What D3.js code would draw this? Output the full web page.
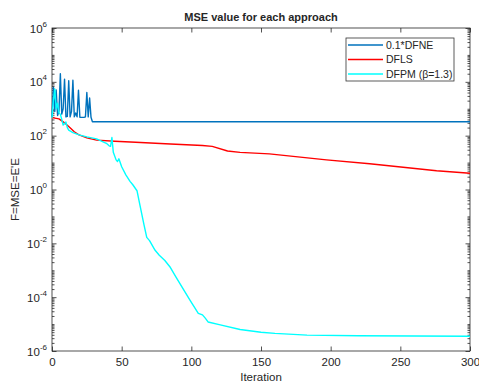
<!DOCTYPE html>
<html><head><meta charset="utf-8">
<script src="https://cdn.jsdelivr.net/npm/d3@7"></script>
<style>
body{margin:0;background:#fff}
svg{display:block}
text{font-family:"Liberation Sans",Arial,Helvetica,sans-serif;fill:#262626}
</style>
</head><body>
<svg id="chart" width="479" height="383"></svg>
<script>
// ---- data ----
const seriesNames = ["0.1*DFNE", "DFLS", "DFPM (\u03b2=1.3)"];
const seriesColors = ["#0072BD", "#FF0000", "#00FFFF"];

const dfneIter = [0,1,2,3,4,5,6,7,8,9,10,11,12,13,14,15,16,17,18,19,20,21,22,23,24,25,26,27,28,29,300];
const dfneVals = [500,6200,800,5000,560,800,20000,630,1000,12600,500,520,11000,500,800,11500,500,700,500,4900,480,480,480,480,500,4000,500,2500,480,330,330];

const dflsIter = [0,5,9,12,16,19,25,32,45,60,85,108,115,126,135,156,197,228,276,300];
const dflsVals = [470,420,300,220,140,110,83,68,62,57,49,43,40,27,24,21,12.6,9,5,4];

const dfpmIter = [0,1,2,3,4,5,6,7,8,9,10,11,12,15,20,25,32,39,41,42,43,44,46,47,48,50,53,56,58,61,63,66,68,70,74,77,81,85,89,99,105,108,110,112,120,135,150,160,183,220,260,300];
const dfpmVals = [460,2000,5400,1000,1600,700,630,400,250,280,320,200,160,130,105,90,76,52,42,40,85,24,12.6,11,13.8,7,3.5,2,1.5,0.9,0.28,0.05,0.0166,0.0126,0.0055,0.0036,0.0023,0.00126,5.6e-4,7.8e-5,2.5e-5,2.2e-5,1.66e-5,1.2e-5,9.5e-6,6.3e-6,5e-6,4.5e-6,3.9e-6,3.7e-6,3.63e-6,3.55e-6];

const xTicks = [0,50,100,150,200,250,300];
const yMajorExp = [-6,-4,-2,0,2,4,6];
const titleText = "MSE value for each approach";
const xLabel = "Iteration";
const yLabel = "F=MSE=E'E";

// ---- layout ----
const L = 52, R = 470, T = 28, B = 351;
const svg = d3.select("#chart");
const axisColor = "#262626";

const x = d3.scaleLinear().domain([0,300]).range([L,R]);
const y = d3.scaleLog().domain([1e-6,1e6]).range([B,T]);

// minor tick values
const yMinor = [];
for (let e=-6; e<6; e++) {
  for (let m=1; m<10; m++) {
    const v = m*Math.pow(10,e);
    if (m===1 && yMajorExp.includes(e)) continue;
    yMinor.push(v);
  }
}
const yMajor = yMajorExp.map(e=>Math.pow(10,e));

function styleAxis(g){
  g.select(".domain").remove();
  g.selectAll(".tick line").attr("stroke",axisColor).attr("stroke-width",0.8);
}

// bottom axis
svg.append("g").attr("transform",`translate(0,${B})`)
  .call(d3.axisBottom(x).tickValues(xTicks).tickSize(-4.5).tickPadding(7).tickFormat(d3.format("d")))
  .call(styleAxis)
  .selectAll("text").attr("font-size",11.5).attr("fill",axisColor).style("font-family",'"Liberation Sans",Arial,sans-serif');
// top axis
svg.append("g").attr("transform",`translate(0,${T})`)
  .call(d3.axisTop(x).tickValues(xTicks).tickSize(-4.5).tickFormat(""))
  .call(styleAxis);

// left axis majors with labels
const yl = svg.append("g").attr("transform",`translate(${L},0)`)
  .call(d3.axisLeft(y).tickValues(yMajor).tickSize(-4.5).tickPadding(5).tickFormat(""))
  .call(styleAxis);
yl.selectAll(".tick").each(function(d){
  const t = d3.select(this).select("text");
  const e = Math.round(Math.log10(d));
  t.attr("font-size",11.5).attr("dy","0.35em").attr("x",-5);
  t.text(null);
  t.append("tspan").text("10");
  t.append("tspan").attr("font-size",8).attr("dy","-0.75em").text(e<0 ? "-"+(-e) : String(e));
});
// left minors
svg.append("g").attr("transform",`translate(${L},0)`)
  .call(d3.axisLeft(y).tickValues(yMinor).tickSize(-2.5).tickFormat(""))
  .call(styleAxis);
// right axis
svg.append("g").attr("transform",`translate(${R},0)`)
  .call(d3.axisRight(y).tickValues(yMajor).tickSize(-4.5).tickFormat(""))
  .call(styleAxis);
svg.append("g").attr("transform",`translate(${R},0)`)
  .call(d3.axisRight(y).tickValues(yMinor).tickSize(-2.5).tickFormat(""))
  .call(styleAxis);

// box
svg.append("rect").attr("x",L).attr("y",T).attr("width",R-L).attr("height",B-T)
  .attr("fill","none").attr("stroke",axisColor).attr("stroke-width",0.8);

// series
const series = [
  {iter: dfneIter, vals: dfneVals},
  {iter: dflsIter, vals: dflsVals},
  {iter: dfpmIter, vals: dfpmVals}
];
const line = d3.line().x(d=>x(d[0])).y(d=>y(d[1]));
series.forEach((s,i)=>{
  const pts = s.iter.map((it,j)=>[it, s.vals[j]]);
  svg.append("path").datum(pts).attr("d",line)
    .attr("fill","none").attr("stroke",seriesColors[i]).attr("stroke-width",1.4)
    .attr("stroke-linejoin","round");
});

// title & labels
svg.append("text").attr("x",(L+R)/2).attr("y",21).attr("text-anchor","middle")
  .attr("font-size",11).attr("font-weight","bold").attr("fill","#000").text(titleText);
svg.append("text").attr("x",(L+R)/2).attr("y",381).attr("text-anchor","middle")
  .attr("font-size",11.5).text(xLabel);
svg.append("text").attr("transform",`translate(18.5,${(T+B)/2}) rotate(-90)`)
  .attr("text-anchor","middle").attr("font-size",11.5).text(yLabel);

// legend
const lg = svg.append("g");
lg.append("rect").attr("x",346).attr("y",38).attr("width",108).attr("height",43)
  .attr("fill","#fff").attr("stroke","#333").attr("stroke-width",0.8);
const rows = [45,59.5,74];
seriesNames.forEach((n,i)=>{
  lg.append("line").attr("x1",348).attr("x2",383).attr("y1",rows[i]).attr("y2",rows[i])
    .attr("stroke",seriesColors[i]).attr("stroke-width",1.4);
  lg.append("text").attr("x",386).attr("y",rows[i]).attr("dy","0.35em")
    .attr("font-size",10.5).text(n);
});
</script>
</body></html>
